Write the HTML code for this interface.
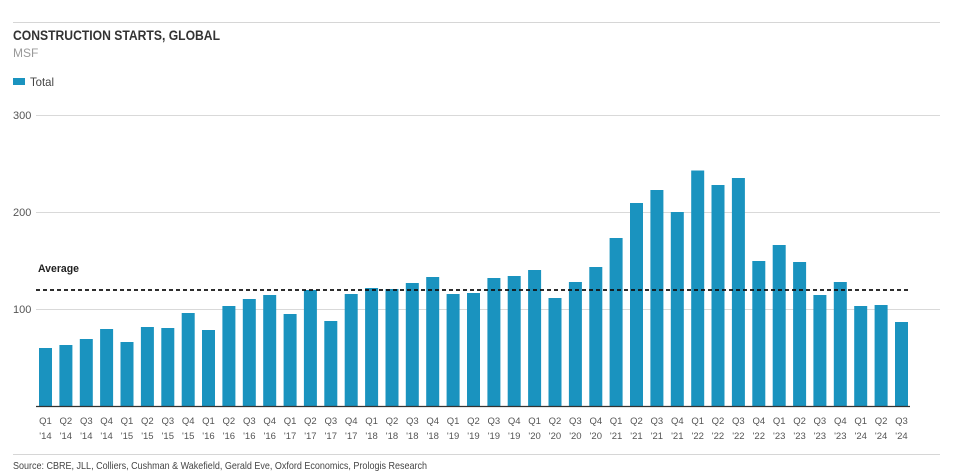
<!DOCTYPE html>
<html><head><meta charset="utf-8"><style>
html,body{margin:0;padding:0;background:#fff;}
svg{display:block;font-family:"Liberation Sans",sans-serif;}
</style></head><body>
<svg width="960" height="475" viewBox="0 0 960 475" xmlns="http://www.w3.org/2000/svg">
<line x1="13" y1="22.5" x2="940" y2="22.5" stroke="#d6d6d6" stroke-width="1"/>
<text x="13" y="40" font-size="13.5" font-weight="bold" fill="#333" textLength="207" lengthAdjust="spacingAndGlyphs">CONSTRUCTION STARTS, GLOBAL</text>
<text x="13" y="57" font-size="12" fill="#999">MSF</text>
<rect x="13" y="78" width="12" height="7" fill="#1a93bf"/>
<text x="30" y="86" font-size="12" fill="#444" textLength="24" lengthAdjust="spacingAndGlyphs">Total</text>
<g stroke="#d9d9d9" stroke-width="1">
<line x1="36" y1="115.5" x2="940" y2="115.5"/>
<line x1="36" y1="212.5" x2="940" y2="212.5"/>
<line x1="36" y1="309.5" x2="940" y2="309.5"/>
</g>
<g font-size="11" fill="#555">
<text x="13" y="119">300</text>
<text x="13" y="216">200</text>
<text x="13" y="313">100</text>
</g>
<g fill="#1a93bf">
<rect x="39" y="348" width="13" height="58"/>
<rect x="59.4" y="345" width="13" height="61"/>
<rect x="79.8" y="339" width="13" height="67"/>
<rect x="100.1" y="329" width="13" height="77"/>
<rect x="120.5" y="342" width="13" height="64"/>
<rect x="140.9" y="327" width="13" height="79"/>
<rect x="161.3" y="328" width="13" height="78"/>
<rect x="181.7" y="313" width="13" height="93"/>
<rect x="202" y="330" width="13" height="76"/>
<rect x="222.4" y="306" width="13" height="100"/>
<rect x="242.8" y="299" width="13" height="107"/>
<rect x="263.2" y="295" width="13" height="111"/>
<rect x="283.6" y="314" width="13" height="92"/>
<rect x="303.9" y="290" width="13" height="116"/>
<rect x="324.3" y="321" width="13" height="85"/>
<rect x="344.7" y="294" width="13" height="112"/>
<rect x="365.1" y="288" width="13" height="118"/>
<rect x="385.5" y="289" width="13" height="117"/>
<rect x="405.8" y="283" width="13" height="123"/>
<rect x="426.2" y="277" width="13" height="129"/>
<rect x="446.6" y="294" width="13" height="112"/>
<rect x="467" y="293" width="13" height="113"/>
<rect x="487.4" y="278" width="13" height="128"/>
<rect x="507.7" y="276" width="13" height="130"/>
<rect x="528.1" y="270" width="13" height="136"/>
<rect x="548.5" y="298" width="13" height="108"/>
<rect x="568.9" y="282" width="13" height="124"/>
<rect x="589.3" y="267" width="13" height="139"/>
<rect x="609.6" y="238" width="13" height="168"/>
<rect x="630" y="203" width="13" height="203"/>
<rect x="650.4" y="190" width="13" height="216"/>
<rect x="670.8" y="212" width="13" height="194"/>
<rect x="691.2" y="170.5" width="13" height="235.5"/>
<rect x="711.5" y="185" width="13" height="221"/>
<rect x="731.9" y="178" width="13" height="228"/>
<rect x="752.3" y="261" width="13" height="145"/>
<rect x="772.7" y="245" width="13" height="161"/>
<rect x="793.1" y="262" width="13" height="144"/>
<rect x="813.4" y="295" width="13" height="111"/>
<rect x="833.8" y="282" width="13" height="124"/>
<rect x="854.2" y="306" width="13" height="100"/>
<rect x="874.6" y="305" width="13" height="101"/>
<rect x="895" y="322" width="13" height="84"/>
</g>
<line x1="36" y1="406.5" x2="910" y2="406.5" stroke="#333" stroke-width="1.2"/>
<line x1="36" y1="290" x2="910" y2="290" stroke="#111" stroke-width="1.8" stroke-dasharray="4,3"/>
<text x="38" y="272" font-size="11" font-weight="bold" fill="#222" textLength="41" lengthAdjust="spacingAndGlyphs">Average</text>
<g font-size="9.5" fill="#555" text-anchor="middle">
<text x="45.5" y="424">Q1</text><text x="45.5" y="439">'14</text>
<text x="65.9" y="424">Q2</text><text x="65.9" y="439">'14</text>
<text x="86.3" y="424">Q3</text><text x="86.3" y="439">'14</text>
<text x="106.6" y="424">Q4</text><text x="106.6" y="439">'14</text>
<text x="127" y="424">Q1</text><text x="127" y="439">'15</text>
<text x="147.4" y="424">Q2</text><text x="147.4" y="439">'15</text>
<text x="167.8" y="424">Q3</text><text x="167.8" y="439">'15</text>
<text x="188.2" y="424">Q4</text><text x="188.2" y="439">'15</text>
<text x="208.5" y="424">Q1</text><text x="208.5" y="439">'16</text>
<text x="228.9" y="424">Q2</text><text x="228.9" y="439">'16</text>
<text x="249.3" y="424">Q3</text><text x="249.3" y="439">'16</text>
<text x="269.7" y="424">Q4</text><text x="269.7" y="439">'16</text>
<text x="290.1" y="424">Q1</text><text x="290.1" y="439">'17</text>
<text x="310.4" y="424">Q2</text><text x="310.4" y="439">'17</text>
<text x="330.8" y="424">Q3</text><text x="330.8" y="439">'17</text>
<text x="351.2" y="424">Q4</text><text x="351.2" y="439">'17</text>
<text x="371.6" y="424">Q1</text><text x="371.6" y="439">'18</text>
<text x="392" y="424">Q2</text><text x="392" y="439">'18</text>
<text x="412.3" y="424">Q3</text><text x="412.3" y="439">'18</text>
<text x="432.7" y="424">Q4</text><text x="432.7" y="439">'18</text>
<text x="453.1" y="424">Q1</text><text x="453.1" y="439">'19</text>
<text x="473.5" y="424">Q2</text><text x="473.5" y="439">'19</text>
<text x="493.9" y="424">Q3</text><text x="493.9" y="439">'19</text>
<text x="514.2" y="424">Q4</text><text x="514.2" y="439">'19</text>
<text x="534.6" y="424">Q1</text><text x="534.6" y="439">'20</text>
<text x="555" y="424">Q2</text><text x="555" y="439">'20</text>
<text x="575.4" y="424">Q3</text><text x="575.4" y="439">'20</text>
<text x="595.8" y="424">Q4</text><text x="595.8" y="439">'20</text>
<text x="616.1" y="424">Q1</text><text x="616.1" y="439">'21</text>
<text x="636.5" y="424">Q2</text><text x="636.5" y="439">'21</text>
<text x="656.9" y="424">Q3</text><text x="656.9" y="439">'21</text>
<text x="677.3" y="424">Q4</text><text x="677.3" y="439">'21</text>
<text x="697.7" y="424">Q1</text><text x="697.7" y="439">'22</text>
<text x="718" y="424">Q2</text><text x="718" y="439">'22</text>
<text x="738.4" y="424">Q3</text><text x="738.4" y="439">'22</text>
<text x="758.8" y="424">Q4</text><text x="758.8" y="439">'22</text>
<text x="779.2" y="424">Q1</text><text x="779.2" y="439">'23</text>
<text x="799.6" y="424">Q2</text><text x="799.6" y="439">'23</text>
<text x="819.9" y="424">Q3</text><text x="819.9" y="439">'23</text>
<text x="840.3" y="424">Q4</text><text x="840.3" y="439">'23</text>
<text x="860.7" y="424">Q1</text><text x="860.7" y="439">'24</text>
<text x="881.1" y="424">Q2</text><text x="881.1" y="439">'24</text>
<text x="901.5" y="424">Q3</text><text x="901.5" y="439">'24</text>
</g>
<line x1="13" y1="454.5" x2="940" y2="454.5" stroke="#d6d6d6" stroke-width="1"/>
<text x="13" y="469" font-size="10.5" fill="#444" textLength="414" lengthAdjust="spacingAndGlyphs">Source: CBRE, JLL, Colliers, Cushman &amp; Wakefield, Gerald Eve, Oxford Economics, Prologis Research</text>
</svg>
</body></html>
